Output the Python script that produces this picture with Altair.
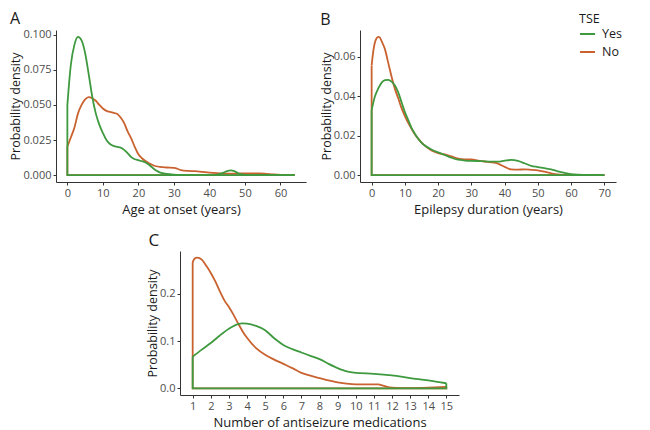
import altair as alt
import pandas as pd

GREEN = "#3f993f"
ORANGE = "#c9622f"
FONT = "Open Sans"

# ---------------- Panel A: Age at onset (years) ----------------
a_yes_x = [0, 0.5, 1, 2, 3, 4, 5, 6, 7, 8, 9, 10, 11, 12, 13, 14, 15, 16, 17, 18, 19, 20,
           21, 22, 23, 24, 25, 26, 27, 28, 30, 32, 35, 40, 42, 43, 44, 45, 46, 47, 48, 49,
           50, 52, 55, 60, 64]
a_yes_y = [0.050, 0.066, 0.079, 0.093, 0.0985, 0.096, 0.087, 0.072, 0.056, 0.044, 0.036,
           0.030, 0.025, 0.0222, 0.0208, 0.0201, 0.0196, 0.018, 0.0155, 0.0128, 0.0113,
           0.0106, 0.0099, 0.009, 0.0074, 0.0052, 0.0032, 0.002, 0.0013, 0.0008, 0.0003,
           0.0001, 0.0, 0.0, 0.0002, 0.0008, 0.0018, 0.0029, 0.0034, 0.0028, 0.0015, 0.0006,
           0.0002, 0.0, 0.0, 0.0, 0.0]
a_no_x = [0, 1, 2, 3, 4, 5, 6, 7, 8, 9, 10, 11, 12, 13, 14, 15, 16, 17, 18, 19, 20, 21, 22,
          23, 24, 25, 26, 28, 30, 32, 34, 36, 38, 40, 42, 44, 46, 48, 50, 52, 54, 56, 58,
          60, 62, 64]
a_no_y = [0.0204, 0.027, 0.034, 0.044, 0.050, 0.054, 0.0556, 0.0548, 0.053, 0.050, 0.0475,
          0.0458, 0.0450, 0.0444, 0.0437, 0.041, 0.037, 0.031, 0.026, 0.020, 0.0148, 0.012,
          0.010, 0.0085, 0.0072, 0.0063, 0.0058, 0.0054, 0.0052, 0.0036, 0.003, 0.0028,
          0.0023, 0.0018, 0.0014, 0.0011, 0.001, 0.0011, 0.0012, 0.0012, 0.0012, 0.0009,
          0.0005, 0.0002, 0.0001, 0.0]
a_xticks = [0, 10, 20, 30, 40, 50, 60]
a_yticks = [0.0, 0.025, 0.05, 0.075, 0.1]

# ---------------- Panel B: Epilepsy duration (years) ----------------
b_yes_x = [0, 1, 2, 3, 4, 5, 6, 7, 8, 9, 10, 11, 12, 13, 14, 15, 16, 18, 20, 22, 24, 26,
           28, 30, 33, 36, 38, 40, 42, 44, 46, 48, 50, 52, 54, 56, 58, 60, 62, 64, 70]
b_yes_y = [0.033, 0.040, 0.044, 0.047, 0.0482, 0.0484, 0.0475, 0.0455, 0.042, 0.037, 0.032,
           0.028, 0.024, 0.021, 0.0185, 0.0165, 0.015, 0.013, 0.0115, 0.0102, 0.0088,
           0.0078, 0.0074, 0.0072, 0.0071, 0.0068, 0.0068, 0.0073, 0.0077, 0.0072, 0.006,
           0.0047, 0.0041, 0.0035, 0.0029, 0.0019, 0.0011, 0.0005, 0.0002, 0.0001, 0.0]
b_no_x = [0, 0.5, 1, 1.5, 2, 2.5, 3, 4, 5, 6, 7, 8, 9, 10, 11, 12, 13, 14, 15, 16, 18, 20,
          22, 24, 26, 28, 30, 32, 34, 36, 38, 40, 42, 44, 46, 48, 50, 52, 54, 56, 58, 60, 70]
b_no_y = [0.0557, 0.063, 0.0675, 0.0695, 0.0702, 0.0698, 0.068, 0.064, 0.057, 0.050,
          0.0438, 0.039, 0.034, 0.030, 0.0265, 0.0235, 0.0208, 0.0185, 0.0165, 0.015,
          0.0125, 0.0112, 0.0105, 0.0095, 0.0084, 0.008, 0.008, 0.0074, 0.0069, 0.0065,
          0.0058, 0.0042, 0.0029, 0.0028, 0.0029, 0.0027, 0.0024, 0.0017, 0.0009, 0.0003,
          0.0001, 0.0, 0.0]
b_xticks = [0, 10, 20, 30, 40, 50, 60, 70]
b_yticks = [0.0, 0.02, 0.04, 0.06]

# ---------------- Panel C: Number of antiseizure medications ----------------
c_yes_x = [1, 1.5, 2, 2.5, 3, 3.5, 3.75, 4, 4.5, 5, 5.5, 6, 6.5, 7, 7.5, 8, 8.5, 9, 9.5,
           10, 11, 12, 13, 14, 15]
c_yes_y = [0.067, 0.082, 0.096, 0.112, 0.126, 0.136, 0.1375, 0.137, 0.132, 0.123, 0.106,
           0.092, 0.083, 0.076, 0.069, 0.062, 0.052, 0.043, 0.036, 0.033, 0.031, 0.0275,
           0.022, 0.017, 0.011]
c_no_x = [1, 1.1, 1.25, 1.5, 1.75, 2, 2.25, 2.5, 2.75, 3, 3.25, 3.5, 3.75, 4, 4.5, 5, 5.5,
          6, 6.5, 7, 7.5, 8, 8.5, 9, 9.5, 10, 10.5, 11, 11.25, 11.5, 12, 12.5, 13, 14, 15]
c_no_y = [0.267, 0.274, 0.2765, 0.272, 0.259, 0.244, 0.226, 0.205, 0.186, 0.172, 0.156,
          0.138, 0.121, 0.107, 0.085, 0.071, 0.061, 0.052, 0.043, 0.033, 0.027, 0.022,
          0.017, 0.013, 0.010, 0.0085, 0.0085, 0.0088, 0.0085, 0.006, 0.0015, 0.0007,
          0.0008, 0.0018, 0.0034]
c_xticks = list(range(1, 16))
c_yticks = [0.0, 0.1, 0.2]

groups = ["Yes", "No"]
colors = [GREEN, ORANGE]
color_scale = alt.Scale(domain=groups, range=colors)

legend_b = alt.Legend(title="TSE", orient="none", legendX=219, legendY=-17,
                      symbolType="stroke", symbolStrokeWidth=2, symbolSize=225,
                      labelFontSize=12.5, titleFontSize=12.5, titleFontWeight="normal",
                      titleColor="#1a1a1a", labelColor="#1a1a1a", rowPadding=3,
                      titlePadding=0, labelOffset=6, labelFont=FONT, titleFont=FONT)


def expand(lo, hi, f=0.05):
    d = (hi - lo) * f
    return [lo - d, hi + d]


def panel(letter, yes_x, yes_y, no_x, no_y, xticks, yticks, yfmt, xtitle, w, h,
          tdx, tsize, toff, legend):
    xmin, xmax = min(yes_x + no_x), max(yes_x + no_x)
    ymax = max(yes_y + no_y)
    xs = alt.Scale(domain=expand(xmin, xmax), nice=False, zero=False)
    ys = alt.Scale(domain=expand(0, ymax), nice=False, zero=False)
    xax = alt.Axis(values=xticks, title=xtitle, format="d")
    yax = alt.Axis(values=yticks, title="Probability density", format=yfmt)
    color_enc = alt.Color("g:N", scale=color_scale, legend=legend)
    layers = []
    for g, gx, gy in (("No", no_x, no_y), ("Yes", yes_x, yes_y)):
        curve = pd.DataFrame({"x": gx, "y": gy, "g": g})
        ex = [gx[0], gx[0], gx[-1], gx[-1]]
        ey = [gy[0], 0.0, 0.0, gy[-1]]
        edges = pd.DataFrame({"x": ex, "y": ey, "g": g, "o": [0, 1, 2, 3]})
        layers.append(
            alt.Chart(edges).mark_line(strokeWidth=1.8, interpolate="linear").encode(
                x=alt.X("x:Q", scale=xs, axis=xax),
                y=alt.Y("y:Q", scale=ys, axis=yax),
                order="o:Q",
                color=color_enc,
            )
        )
        layers.append(
            alt.Chart(curve).mark_line(strokeWidth=1.8, interpolate="monotone").encode(
                x=alt.X("x:Q", scale=xs, axis=xax),
                y=alt.Y("y:Q", scale=ys, axis=yax),
                order="x:Q",
                color=color_enc,
            )
        )
    return alt.layer(*layers).properties(
        width=w, height=h,
        title=alt.TitleParams(letter, anchor="start", fontSize=tsize, fontWeight="normal",
                              font=FONT, color="#1a1a1a", dx=tdx, offset=toff),
    )


pA = panel("A", a_yes_x, a_yes_y, a_no_x, a_no_y, a_xticks, a_yticks, ".3f",
           "Age at onset (years)", 250, 152, 0, 16, 2, None)
pB = panel("B", b_yes_x, b_yes_y, b_no_x, b_no_y, b_xticks, b_yticks, ".2f",
           "Epilepsy duration (years)", 256, 152, 0, 16, -15, legend_b)
pC = panel("C", c_yes_x, c_yes_y, c_no_x, c_no_y, c_xticks, c_yticks, ".1f",
           "Number of antiseizure medications", 279, 144, 2, 17, 1, None)

spacer = alt.Chart(pd.DataFrame({"s": [0]})).mark_point(opacity=0, size=0).encode(
    x=alt.X("s:Q", axis=None), y=alt.Y("s:Q", axis=None)
).properties(width=90, height=10)

top = alt.hconcat(pA, pB, spacing=14).resolve_legend(color="independent")
bottom = alt.hconcat(spacer, pC, spacing=0).resolve_legend(color="independent")

chart = alt.vconcat(top, bottom, spacing=16).resolve_legend(
    color="independent"
).properties(
    padding={"left": 1, "top": 2, "right": 0, "bottom": 0}
).configure_view(stroke=None).configure_axis(
    grid=False,
    domainColor="#333333",
    tickColor="#333333",
    domainWidth=1,
    tickWidth=1,
    tickSize=3,
    labelColor="#4d4d4d",
    titleColor="#1a1a1a",
    labelFont=FONT,
    titleFont=FONT,
    labelFontSize=11,
    titleFontWeight="normal",
    labelPadding=2,
).configure_axisX(
    labelFlush=False, labelOverlap=False, titleFontSize=13, titlePadding=5
).configure_axisY(labelFlush=False, titleFontSize=12.5, titlePadding=0, labelPadding=2)

chart.save("out.html", embed_options={"renderer": "svg", "actions": False})
